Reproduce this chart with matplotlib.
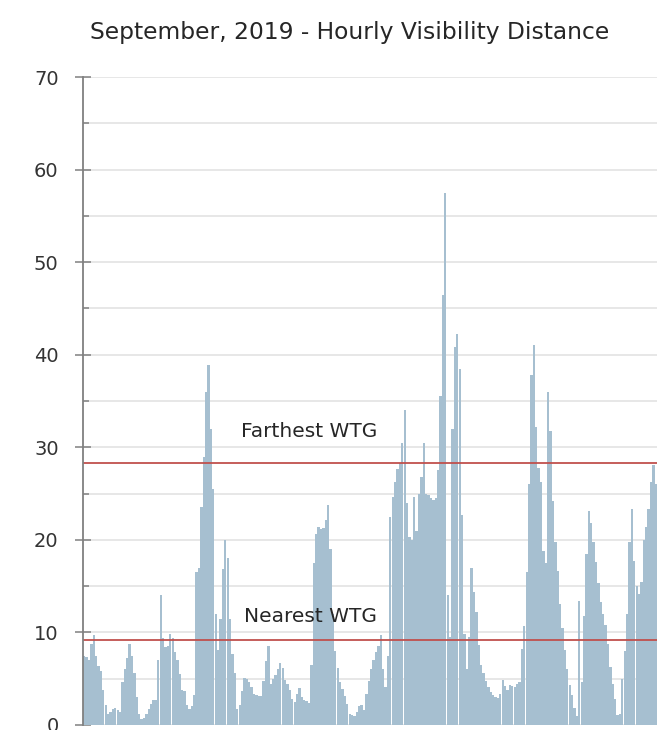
import matplotlib
matplotlib.use("Agg")
import matplotlib.pyplot as plt
import numpy as np

plt.rcParams['font.family'] = ['DejaVu Sans']

title = "September, 2019 - Hourly Visibility Distance"

# visibility (km), one value per 3-hour block through September 2019
visibility = [
    7.5, 7.3, 7.0, 8.7, 9.7, 7.4, 6.4, 5.8, 3.8, 2.2,
    1.2, 1.4, 1.7, 1.8, 1.6, 1.4, 4.6, 6.1, 7.2, 8.8,
    7.5, 5.6, 3.0, 1.2, 0.7, 0.8, 1.2, 1.7, 2.3, 2.7,
    2.7, 7.0, 14.0, 9.4, 8.4, 8.5, 9.8, 9.4, 7.9, 7.0,
    5.5, 3.8, 3.7, 2.2, 1.7, 2.0, 3.2, 16.5, 17.0, 23.5,
    28.9, 36.0, 38.9, 32.0, 25.5, 12.0, 8.1, 11.5, 16.8, 20.0,
    18.0, 11.5, 7.7, 5.6, 1.7, 2.2, 3.7, 5.1, 5.0, 4.6,
    4.1, 3.4, 3.2, 3.1, 3.1, 4.8, 6.9, 8.5, 4.4, 5.0,
    5.4, 6.0, 6.7, 6.2, 4.9, 4.4, 3.8, 2.8, 2.5, 3.3,
    4.0, 3.0, 2.7, 2.6, 2.4, 6.5, 17.5, 20.6, 21.4, 21.2,
    21.3, 22.1, 23.8, 19.0, 12.0, 8.0, 6.2, 4.6, 3.9, 3.1,
    2.3, 1.2, 1.1, 1.0, 1.4, 2.0, 2.2, 1.6, 3.3, 4.8,
    6.0, 7.0, 7.9, 8.5, 9.7, 6.0, 4.1, 7.5, 22.5, 24.6,
    26.2, 27.7, 28.3, 30.5, 34.0, 24.0, 20.3, 20.0, 24.6, 21.0,
    25.0, 26.8, 30.5, 25.0, 24.8, 24.5, 24.3, 24.5, 27.6, 35.5,
    46.5, 57.5, 14.0, 9.5, 32.0, 40.8, 42.2, 38.5, 22.7, 9.8,
    6.0, 9.5, 17.0, 14.4, 12.2, 8.6, 6.5, 5.6, 4.8, 4.1,
    3.6, 3.2, 3.0, 2.9, 3.4, 4.9, 4.2, 3.8, 4.3, 4.2,
    4.1, 4.4, 4.6, 8.2, 10.7, 16.5, 26.0, 37.8, 41.0, 32.2,
    27.8, 26.2, 18.8, 17.5, 36.0, 31.8, 24.2, 19.8, 16.6, 13.1,
    10.5, 8.1, 6.0, 4.3, 3.2, 1.8, 1.0, 13.4, 4.6, 11.8,
    18.5, 23.1, 21.8, 19.8, 17.6, 15.3, 13.3, 12.0, 10.8, 8.8,
    6.3, 4.4, 2.8, 1.1, 1.2, 5.0, 8.0, 12.0, 19.8, 23.3,
    17.7, 15.0, 14.2, 15.5, 20.0, 21.4, 23.3, 26.3, 28.1, 26.0,
]

wtg_distance = [28.3, 9.2]
wtg_labels = ["Farthest WTG", "Nearest WTG"]

fig = plt.figure(figsize=(6.6, 7.3), dpi=100)
ax = fig.add_axes([83 / 660, 5 / 730, 574 / 660, 648 / 730])

x = np.arange(len(visibility))
ax.bar(x, visibility, width=0.96, color="#a6bfd0", edgecolor="none", zorder=2)

for d in wtg_distance:
    ax.axhline(d, color="#c0504d", lw=1.3, zorder=3)

# labels sit a little above their lines
ax.text(0.394, (725 - 441) / 9.257, wtg_labels[0], transform=ax.get_yaxis_transform(),
        ha="center", va="bottom", fontsize=14.5, color="#262626", zorder=4)
ax.text(0.396, (725 - 626) / 9.257, wtg_labels[1], transform=ax.get_yaxis_transform(),
        ha="center", va="bottom", fontsize=14.5, color="#262626", zorder=4)

ax.set_xlim(-0.5, len(visibility) - 0.5)
ax.set_ylim(0, 70)
ax.set_yticks(np.arange(0, 71, 10))
ax.set_yticks(np.arange(5, 70, 10), minor=True)
ax.grid(axis="y", which="both", color="#e3e3e3", lw=1.2, zorder=0)
ax.tick_params(axis="y", which="major", direction="inout", length=11, width=1.1,
               color="#808080", labelsize=14, labelcolor="#333333", pad=12)
ax.tick_params(axis="y", which="minor", direction="in", length=4, width=1.1, color="#808080")
ax.tick_params(axis="x", bottom=False, labelbottom=False)
for s in ["top", "right", "bottom"]:
    ax.spines[s].set_visible(False)
ax.spines["left"].set_color("#808080")
ax.spines["left"].set_linewidth(1.3)
ax.spines["left"].set_zorder(5)

fig.text(350 / 660, 1 - 32 / 730, title, ha="center", va="center", fontsize=16.8, color="#262626")

fig.savefig("out.png", dpi=100)
